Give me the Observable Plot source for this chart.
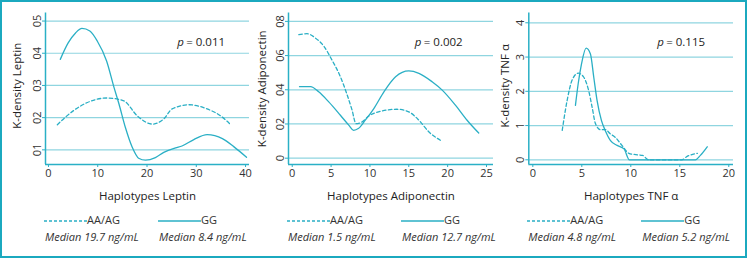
<!DOCTYPE html>
<html><head><meta charset="utf-8">
<script src="https://cdn.jsdelivr.net/npm/d3@7"></script>
<script src="https://cdn.jsdelivr.net/npm/@observablehq/plot@0.6"></script>
<style>
body{margin:0;background:#fff;}
#fig{position:relative;width:747px;height:258px;font-family:"Open Sans",sans-serif;color:#333;overflow:hidden;background:#fff;}
#border{position:absolute;left:0;top:0;width:747px;height:258px;box-sizing:border-box;border:2px solid #1ba9bf;pointer-events:none;}
.panel{position:absolute;top:0;}
.leg{position:absolute;font-size:11px;line-height:16px;white-space:nowrap;color:#333;}
.leg svg{vertical-align:middle;}
.med{font-style:italic;}
</style>
</head><body>
<div id="fig"><div id="border"></div></div>
<script>
// ---- data ----
const groups = ["AA/AG", "GG"];

const leptinX_AA = [1.8, 5.1, 7.9, 11.9, 15.3, 18.0, 21.1, 23.4, 25.1, 28.5, 32.2, 34.9, 37.0];
const leptinY_AA = [0.0178, 0.0222, 0.0247, 0.0261, 0.0252, 0.0206, 0.0180, 0.0196, 0.0227, 0.0240, 0.0227, 0.0206, 0.0178];
const leptinX_GG = [2.4, 4.0, 5.5, 6.8, 8.4, 9.9, 11.8, 13.3, 14.3, 15.6, 17.0, 18.3, 19.7, 21.7, 23.4, 25.8, 27.1, 29.5, 32.2, 35.3, 37.6, 40.2];
const leptinY_GG = [0.0381, 0.0432, 0.0463, 0.0477, 0.0469, 0.0438, 0.0376, 0.0294, 0.0243, 0.0170, 0.0108, 0.0074, 0.0068, 0.0076, 0.0092, 0.0106, 0.0112, 0.0132, 0.0147, 0.0135, 0.0110, 0.0077];

const adipoX_AA = [0.85, 1.9, 3.0, 4.1, 5.1, 6.2, 7.0, 7.7, 8.2, 9.0, 9.8, 11.1, 13.5, 15.0, 16.3, 17.6, 19.1];
const adipoY_AA = [0.0722, 0.0728, 0.0702, 0.0653, 0.0575, 0.0476, 0.0379, 0.0281, 0.0202, 0.0212, 0.0245, 0.0271, 0.0286, 0.0271, 0.0222, 0.0153, 0.0104];
const adipoX_GG = [0.94, 2.36, 3.4, 4.7, 6.2, 7.3, 7.9, 8.5, 9.4, 10.5, 11.8, 13.3, 15.0, 16.3, 18.0, 19.3, 21.0, 22.5, 24.0];
const adipoY_GG = [0.0418, 0.0418, 0.0388, 0.0329, 0.0251, 0.0192, 0.0163, 0.0173, 0.0222, 0.0290, 0.0388, 0.0476, 0.0510, 0.0496, 0.0447, 0.0398, 0.0310, 0.0222, 0.0147];

const tnfX_AA = [3.0, 3.5, 4.0, 4.63, 5.2, 5.7, 6.05, 6.4, 6.9, 7.4, 7.9, 8.4, 9.1, 9.8, 10.5, 11.2, 11.8, 13.5, 15.2, 15.75, 16.8];
const tnfY_AA = [0.86, 1.73, 2.32, 2.53, 2.41, 2.02, 1.54, 1.05, 0.88, 0.88, 0.76, 0.66, 0.42, 0.19, 0.15, 0.13, 0, 0, 0, 0.10, 0.19];
const tnfX_GG = [4.35, 4.63, 4.97, 5.44, 5.88, 6.22, 6.56, 7.0, 7.4, 7.93, 8.6, 9.3, 9.86, 12, 14, 16.6, 17.1, 17.8];
const tnfY_GG = [1.59, 2.22, 2.80, 3.26, 3.09, 2.41, 1.73, 1.15, 0.85, 0.56, 0.42, 0.32, 0, 0, 0, 0, 0.13, 0.38];

const leptinXTicks = [0, 10, 20, 30, 40];
const leptinYTicks = [0.01, 0.02, 0.03, 0.04, 0.05];
const leptinYLabels = ["01", "02", "03", "04", "05"];
const adipoXTicks = [0, 5, 10, 15, 20, 25];
const adipoYTicks = [0, 0.02, 0.04, 0.06, 0.08];
const adipoYLabels = ["0", "02", "04", "06", "08"];
const tnfXTicks = [0, 5, 10, 15, 20];
const tnfYTicks = [0, 1, 2, 3, 4];
const tnfYLabels = ["0", "1", "2", "3", "4"];

const xTitles = ["Haplotypes Leptin", "Haplotypes Adiponectin", "Haplotypes TNF α"];
const yTitles = ["K-density Leptin", "K-density Adiponectin", "K-density TNF α"];
const pValues = ["= 0.011", "= 0.002", "= 0.115"];
const medians = [
  ["Median 19.7 ng/mL", "Median 8.4 ng/mL"],
  ["Median 1.5 ng/mL", "Median 12.7 ng/mL"],
  ["Median 4.8 ng/mL", "Median 5.2 ng/mL"]
];

// ---- styles / layout ----
const LINE = "#2aafc5", GRID = "#8fd5e0", AXIS = "#2ab0c6", TEXT = "#333";
const DASH = "3.5,2.5";

const panels = [
  {left: 0, width: 250, mL: 45, mR: 1, xDomain: [-0.6, 40.8], yDomain: [0.00545, 0.0525],
   xTicks: leptinXTicks, yTicks: leptinYTicks, yLabels: leptinYLabels,
   AA: [leptinX_AA, leptinY_AA], GG: [leptinX_GG, leptinY_GG], yTitleDx: -27.7, yTitleDy: -3, pDx: -72.3},
  {left: 250, width: 248, mL: 38, mR: 5, xDomain: [-0.48, 25.9], yDomain: [-0.0037, 0.0849],
   xTicks: adipoXTicks, yTicks: adipoYTicks, yLabels: adipoYLabels,
   AA: [adipoX_AA, adipoY_AA], GG: [adipoX_GG, adipoY_GG], yTitleDx: -26, yTitleDy: 0, pDx: -78.7},
  {left: 498, width: 247, mL: 30.3, mR: 12, xDomain: [-0.41, 20.48], yDomain: [-0.137, 4.286],
   xTicks: tnfXTicks, yTicks: tnfYTicks, yLabels: tnfYLabels,
   AA: [tnfX_AA, tnfY_AA], GG: [tnfX_GG, tnfY_GG], yTitleDx: -23.3, yTitleDy: -3, pDx: -76.3}
];

const fig = document.getElementById("fig");

panels.forEach((cfg, k) => {
  const toRows = ([xs, ys]) => xs.map((x, i) => ({x, y: ys[i]}));
  const aa = toRows(cfg.AA), gg = toRows(cfg.GG);
  const plot = Plot.plot({
    width: cfg.width, height: 210,
    marginLeft: cfg.mL, marginRight: cfg.mR, marginTop: 12.5, marginBottom: 46,
    style: {fontFamily: "'Open Sans', sans-serif", fontSize: "11px", color: TEXT, background: "transparent", overflow: "visible"},
    x: {domain: cfg.xDomain},
    y: {domain: cfg.yDomain},
    marks: [
      Plot.ruleY(cfg.yTicks, {stroke: GRID, strokeWidth: 1.2}),
      Plot.axisX({ticks: cfg.xTicks, tickSize: 3, tickPadding: 2, stroke: AXIS, fill: TEXT, label: null, tickFormat: d => String(d)}),
      Plot.axisY({ticks: cfg.yTicks, tickSize: 3, tickPadding: 2, tickRotate: -90, textAnchor: "middle", lineAnchor: "bottom",
                  stroke: AXIS, fill: TEXT, label: null, tickFormat: d => cfg.yLabels[cfg.yTicks.indexOf(d)]}),
      Plot.ruleX([cfg.xDomain[0]], {stroke: AXIS, strokeWidth: 1.5}),
      Plot.ruleY([cfg.yDomain[0]], {stroke: AXIS, strokeWidth: 1.5}),
      Plot.line(aa, {x: "x", y: "y", stroke: LINE, strokeWidth: 1.3, strokeDasharray: DASH, curve: "monotone-x"}),
      Plot.line(gg, {x: "x", y: "y", stroke: LINE, strokeWidth: 1.3, curve: "monotone-x"}),
      Plot.text([xTitles[k]], {text: d => d, frameAnchor: "bottom", lineAnchor: "middle", textAnchor: "middle", dy: 32, fontSize: 11.5, fill: "#222"}),
      Plot.text([yTitles[k]], {text: d => d, frameAnchor: "left", rotate: -90, textAnchor: "middle", lineAnchor: "middle", dx: cfg.yTitleDx, dy: cfg.yTitleDy, fontSize: 11.5, fill: "#222"}),
      Plot.text(["p"], {text: d => d, frameAnchor: "top-right", textAnchor: "start", lineAnchor: "middle", dx: cfg.pDx, dy: 29.3, fontStyle: "italic", fontSize: 11.5, fill: "#222"}),
      Plot.text([pValues[k]], {text: d => d, frameAnchor: "top-right", textAnchor: "start", lineAnchor: "middle", dx: cfg.pDx + 9, dy: 29.3, fontSize: 11.5, fill: "#222"})
    ]
  });
  const wrap = document.createElement("div");
  wrap.className = "panel";
  wrap.style.left = cfg.left + "px";
  wrap.appendChild(plot);
  fig.appendChild(wrap);

  // legend
  const legLeft = cfg.left + cfg.mL - 1;
  groups.forEach((g, j) => {
    const row1 = document.createElement("div");
    row1.className = "leg";
    row1.style.left = (legLeft + j * 114) + "px";
    row1.style.top = "212px";
    const dash = j === 0 ? `stroke-dasharray="3,2"` : "";
    row1.innerHTML = `<svg width="43" height="4"><line x1="0" x2="43" y1="2" y2="2" stroke="${LINE}" stroke-width="1.3" ${dash}/></svg>${g}`;
    fig.appendChild(row1);
    const row2 = document.createElement("div");
    row2.className = "leg med";
    row2.style.left = (legLeft + 1 + j * 114) + "px";
    row2.style.top = "229px";
    row2.textContent = medians[k][j];
    fig.appendChild(row2);
  });
});
</script>
</body></html>
